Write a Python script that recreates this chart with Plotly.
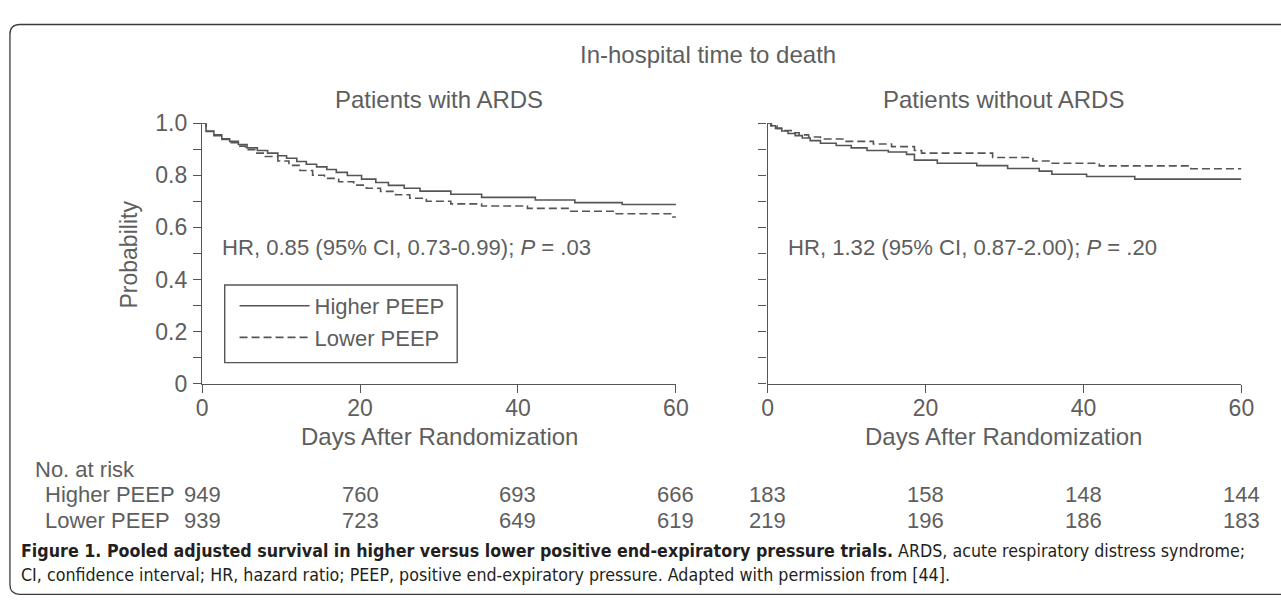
import plotly.graph_objects as go

W, H = 1281, 616
def px(x): return x / W
def py(y): return 1 - y / H

LINE = "#555555"
TXT = "#5e5e5e"
FONT = "Liberation Sans, Arial, sans-serif"

# ---- data: Kaplan-Meier step curves (day, survival probability) ----
ards_higher_t = [0, 0.5, 1.5, 2.5, 3.5, 4.6, 5.7, 7.0, 8.3, 9.6, 10.7, 12.0, 13.2, 14.5, 15.8, 17.0, 18.4,
                 20.2, 22.0, 23.6, 25.6, 27.6, 31.5, 35.4, 42.2, 47.2, 53.2, 60]
ards_higher_s = [1.0, 0.97, 0.955, 0.94, 0.93, 0.918, 0.905, 0.895, 0.885, 0.875, 0.865, 0.853, 0.842, 0.832,
                 0.822, 0.811, 0.799, 0.785, 0.772, 0.761, 0.75, 0.739, 0.727, 0.715, 0.705, 0.695, 0.688, 0.688]
ards_lower_t = [0, 0.5, 1.5, 2.5, 3.5, 4.5, 5.5, 6.8, 8.0, 9.6, 11.0, 12.4, 14.0, 15.5, 17.3, 19.2, 20.8,
                22.6, 24.5, 26.3, 28.4, 31.5, 35.4, 41.2, 46.5, 52.3, 59.6, 60]
ards_lower_s = [1.0, 0.968, 0.952, 0.937, 0.925, 0.912, 0.898, 0.885, 0.872, 0.855, 0.838, 0.818, 0.80, 0.788,
                0.775, 0.762, 0.75, 0.738, 0.725, 0.712, 0.70, 0.69, 0.682, 0.673, 0.662, 0.652, 0.640, 0.640]

noards_higher_t = [0, 0.4, 1.0, 1.8, 2.6, 3.5, 4.4, 5.4, 6.7, 8.7, 10.6, 12.6, 15.3, 17.6, 18.6, 21.5, 26.5,
                   30.4, 34.4, 36.0, 40.4, 46.5, 60]
noards_higher_s = [1.0, 0.99, 0.98, 0.97, 0.96, 0.952, 0.943, 0.933, 0.923, 0.914, 0.905, 0.895, 0.889, 0.880,
                   0.858, 0.846, 0.837, 0.826, 0.816, 0.804, 0.795, 0.785, 0.785]
noards_lower_t = [0, 0.5, 1.2, 2.0, 3.0, 4.0, 5.2, 6.7, 9.7, 13.4, 15.7, 18.6, 19.5, 28.5, 33.6, 35.8, 42.0,
                  53.6, 60]
noards_lower_s = [1.0, 0.99, 0.98, 0.972, 0.963, 0.955, 0.947, 0.939, 0.93, 0.92, 0.91, 0.895, 0.885, 0.868,
                  0.855, 0.846, 0.836, 0.825, 0.825]

groups = ["Higher PEEP", "Lower PEEP"]
risk_days = [0, 20, 40, 60]
risk_ards_higher = [949, 760, 693, 666]
risk_ards_lower = [939, 723, 649, 619]
risk_noards_higher = [183, 158, 148, 144]
risk_noards_lower = [219, 196, 186, 183]

x_ticks = [0, 20, 40, 60]
y_ticks = [0, 0.2, 0.4, 0.6, 0.8, 1.0]
y_ticklabels = ["0", "0.2", "0.4", "0.6", "0.8", "1.0"]

fig = go.Figure()
solid = dict(shape="hv", color=LINE, width=1.6)
dashed = dict(shape="hv", color=LINE, width=1.6, dash="8px,4px")
fig.add_trace(go.Scatter(x=ards_higher_t, y=ards_higher_s, mode="lines", line=solid, name=groups[0],
                         xaxis="x", yaxis="y"))
fig.add_trace(go.Scatter(x=ards_lower_t, y=ards_lower_s, mode="lines", line=dashed, name=groups[1],
                         xaxis="x", yaxis="y"))
fig.add_trace(go.Scatter(x=noards_higher_t, y=noards_higher_s, mode="lines", line=solid, name=groups[0],
                         xaxis="x2", yaxis="y2", showlegend=False))
fig.add_trace(go.Scatter(x=noards_lower_t, y=noards_lower_s, mode="lines", line=dashed, name=groups[1],
                         xaxis="x2", yaxis="y2", showlegend=False))

xax = dict(range=[0, 60], tickvals=x_ticks, ticks="outside", ticklen=8, tickwidth=1.3, tickcolor=LINE,
           showline=True, linecolor=LINE, linewidth=1.3, showgrid=False, zeroline=False,
           tickfont=dict(size=23, color=TXT, family=FONT), ticklabelstandoff=-4, fixedrange=True)
yax = dict(range=[0, 1], tickvals=y_ticks, ticktext=y_ticklabels, ticks="outside", ticklen=8, tickwidth=1.3,
           tickcolor=LINE, showline=True, linecolor=LINE, linewidth=1.3, showgrid=False, zeroline=False,
           tickfont=dict(size=23, color=TXT, family=FONT), ticklabelstandoff=1, fixedrange=True,
           minor=dict(dtick=0.1, ticks="outside", ticklen=8, tickwidth=1.3, tickcolor=LINE))

fig.update_layout(
    width=W, height=H, margin=dict(l=0, r=0, t=0, b=0),
    paper_bgcolor="white", plot_bgcolor="white",
    font=dict(family=FONT, color=TXT, size=22),
    xaxis=dict(xax, domain=[px(199), px(680)], anchor="y"),
    yaxis=dict(yax, domain=[py(387), py(115)], anchor="x"),
    xaxis2=dict(xax, domain=[px(773), px(1254)], anchor="y2"),
    yaxis2=dict(yax, domain=[py(387), py(115)], anchor="x2", showticklabels=False),
    legend=dict(x=px(232), y=py(284), xanchor="left", yanchor="top", borderwidth=0,
                bgcolor="rgba(0,0,0,0)", itemwidth=70, font=dict(size=22, color=TXT, family=FONT),
                tracegroupgap=0),
    showlegend=True,
)

# legend frame
fig.add_shape(type="rect", xref="paper", yref="paper", x0=px(222), x1=px(458), y0=py(365), y1=py(284),
              line=dict(color=LINE, width=1.4), fillcolor="rgba(0,0,0,0)", layer="below")

ann = []
def add(text, x, y, xanchor="center", size=22, color=TXT, xref="paper", **kw):
    ann.append(dict(text=text, x=x, y=py(y), xref=xref, yref="paper", xanchor=xanchor, yanchor="middle",
                    showarrow=False, font=dict(size=size, color=color, family=kw.pop("family", FONT)), **kw))

add("In-hospital time to death", px(713), 43, size=24)
add("Patients with ARDS", px(440), 90, size=24)
add("Patients without ARDS", px(1013), 90, size=24)
add("Probability", px(125), 252, size=23, textangle=-90)
add("Days After Randomization", px(440), 442, size=24)
add("Days After Randomization", px(1013), 442, size=24)
add("HR, 0.85 (95% CI, 0.73-0.99); <i>P</i> = .03", px(217), 245, xanchor="left", size=22.1)
add("HR, 1.32 (95% CI, 0.87-2.00); <i>P</i> = .20", px(792), 245, xanchor="left", size=22.1)

add("No. at risk", px(27), 477, xanchor="left")
add(groups[0], px(38), 503, xanchor="left")
add(groups[1], px(38), 530, xanchor="left")
for d, a, b in zip(risk_days, risk_ards_higher, risk_ards_lower):
    add(str(a), d, 503, xref="x")
    add(str(b), d, 530, xref="x")
for d, a, b in zip(risk_days, risk_noards_higher, risk_noards_lower):
    add(str(a), d, 503, xref="x2")
    add(str(b), d, 530, xref="x2")

CAP = "Liberation Sans Narrow, DejaVu Sans Condensed, Roboto, sans-serif"
add("<b>Figure 1. Pooled adjusted survival in higher versus lower positive end-expiratory pressure trials.</b>"
    " ARDS, acute respiratory distress syndrome;", px(13), 562, xanchor="left", size=17.7, color="#231f20",
    family=CAP)
add("CI, confidence interval; HR, hazard ratio; PEEP, positive end-expiratory pressure. Adapted with permission"
    " from [44].", px(13), 587, xanchor="left", size=17.7, color="#231f20", family=CAP)
fig.update_layout(annotations=ann)

# rounded frame (left corners rounded, open to the right edge)
r = 10
x0, y0, y1, x1 = 4, 12, 607, 1300
path = (f"M {px(x1)} {py(y0)} L {px(x0 + r)} {py(y0)} Q {px(x0)} {py(y0)} {px(x0)} {py(y0 + r)} "
        f"L {px(x0)} {py(y1 - r)} Q {px(x0)} {py(y1)} {px(x0 + r)} {py(y1)} L {px(x1)} {py(y1)}")
fig.add_shape(type="path", path=path, xref="paper", yref="paper", line=dict(color="#3a3a3a", width=1.3))

fig.write_html("out.html", config={"displayModeBar": False},
               post_script="document.body.style.margin='0';document.body.style.overflow='hidden';")
